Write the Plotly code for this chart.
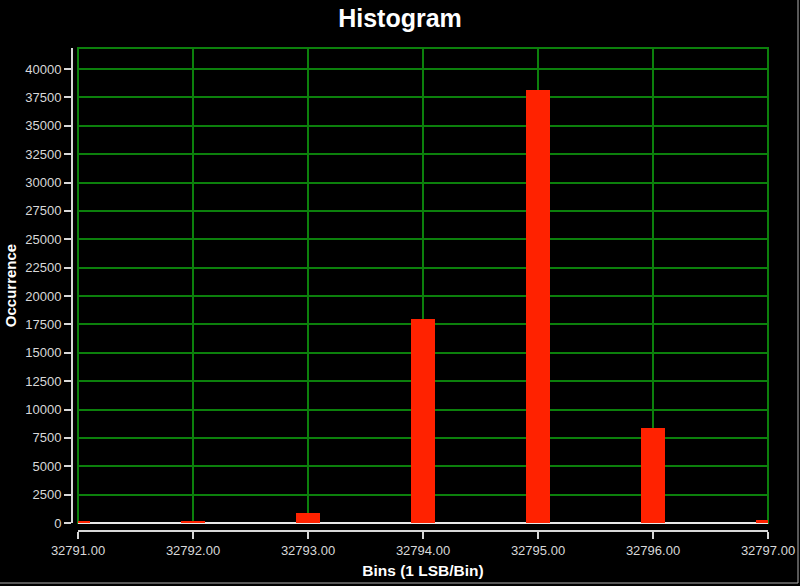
import plotly.graph_objects as go

# histogram bins (1 LSB per bin) and counts
bins = [32791, 32792, 32793, 32794, 32795, 32796, 32797]
counts = [110, 90, 900, 18000, 38150, 8400, 300]

y_ticks = list(range(0, 40001, 2500))
x_ticks = bins

grid_green = "#0c800c"
axis_grey = "#d8d8d8"
font_face = "Liberation Sans, Arial, sans-serif"

fig = go.Figure()
fig.add_trace(go.Bar(
    x=bins, y=counts,
    width=0.21,
    marker=dict(color="#ff2200", line=dict(width=0)),
))

fig.update_layout(
    width=800, height=586,
    paper_bgcolor="black", plot_bgcolor="black",
    margin=dict(l=72, r=32, t=48, b=55, autoexpand=False),
    showlegend=False,
    bargap=0,
    font=dict(family=font_face, color=axis_grey, size=13),
    title=dict(text="<b>Histogram</b>", x=0.5, xref="container", xanchor="center",
               y=1 - 18 / 586, yref="container", yanchor="middle",
               font=dict(size=25, color="white", family=font_face)),
)

fig.update_xaxes(
    range=[32791, 32797],
    domain=[6 / 696, 1],
    anchor="free", position=0,
    automargin=False,
    tickmode="array", tickvals=x_ticks,
    ticktext=[f"{v:.2f}" for v in x_ticks],
    showgrid=True, gridcolor=grid_green, gridwidth=1.5,
    showline=True, linecolor=axis_grey, linewidth=2,
    ticks="outside", ticklen=7, tickwidth=2, tickcolor=axis_grey,
    tickfont=dict(size=13, color=axis_grey),
    zeroline=False,
    title=dict(text="<b>Bins (1 LSB/Bin)</b>", standoff=8,
               font=dict(size=15.5, color="white")),
)

fig.update_yaxes(
    range=[0, 41850],
    domain=[8 / 483, 1],
    anchor="free", position=0,
    automargin=False,
    tickmode="array", tickvals=y_ticks,
    ticktext=[str(v) for v in y_ticks],
    showgrid=True, gridcolor=grid_green, gridwidth=1.5,
    showline=True, linecolor=axis_grey, linewidth=2,
    ticks="outside", ticklen=7, tickwidth=2, tickcolor=axis_grey,
    tickfont=dict(size=13, color=axis_grey),
    zeroline=True, zerolinecolor="#e8e8e8", zerolinewidth=2,
    title=dict(text="<b>Occurrence</b>", standoff=4,
               font=dict(size=15, color="white")),
)

# green frame round the plot area
fig.add_shape(type="rect", xref="x domain", yref="y domain",
              x0=0, x1=1, y0=0, y1=1, layer="below",
              line=dict(color=grid_green, width=2))

# thin grey edge along the right and bottom of the panel
px_x = lambda p: (p - 72) / 696
px_y = lambda p: (531 - p) / 483
fig.add_shape(type="line", xref="paper", yref="paper",
              x0=px_x(798), x1=px_x(798), y0=px_y(0), y1=px_y(583),
              line=dict(color="#b0b0b0", width=1))
fig.add_shape(type="line", xref="paper", yref="paper",
              x0=px_x(0), x1=px_x(798), y0=px_y(583), y1=px_y(583),
              line=dict(color="#b0b0b0", width=1))

# page body has an 8px default margin; drop it so the figure fills the window
fig.write_html("out.html",
               config={"displayModeBar": False},
               post_script="document.body.style.margin='0';"
                           "document.body.style.background='black';")
